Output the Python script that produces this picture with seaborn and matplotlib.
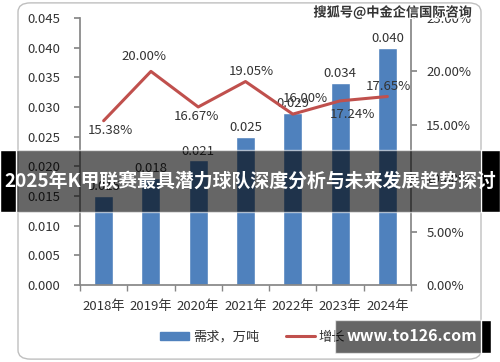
import numpy as np
import pandas as pd
import matplotlib
matplotlib.use("Agg")
import matplotlib.pyplot as plt
import seaborn as sns
from matplotlib.patches import FancyBboxPatch, Rectangle, Patch
from matplotlib.lines import Line2D
from matplotlib.ticker import FuncFormatter, MultipleLocator
import matplotlib.patheffects as pe

# ---- data ----
years = ["2018年", "2019年", "2020年", "2021年", "2022年", "2023年", "2024年"]
demand = [0.015, 0.018, 0.021, 0.025, 0.029, 0.034, 0.040]
growth = [15.38, 20.00, 16.67, 19.05, 16.00, 17.24, 17.65]
growth_labels = ["15.38%", "20.00%", "16.67%", "19.05%", "16.00%", "17.24%", "17.65%"]
banner_title = "2025年K甲联赛最具潜力球队深度分析与未来发展趋势探讨"

df = pd.DataFrame({"year": years, "demand": demand, "growth": growth})

sns.set_theme(style="white")
plt.rcParams["font.family"] = ["Noto Sans CJK SC", "DejaVu Sans"]

BLUE = "#4F81BD"
RED = "#C0504D"
GRAY = "#868686"
TXT = "#333333"

fig = plt.figure(figsize=(5, 3.62), dpi=100)
ax = fig.add_axes([0.16, 0.2127, 0.662, 0.7376])

# rounded outer frame
frame = FancyBboxPatch((0.036, 0.008), 0.926, 0.984, boxstyle="round,pad=0,rounding_size=0.025",
                       transform=fig.transFigure, facecolor="white", edgecolor="#BFBFBF",
                       linewidth=1.0, zorder=-10)
fig.patches.append(frame)
ax.set_facecolor("none")

sns.barplot(data=df, x="year", y="demand", color=BLUE, width=0.4, saturation=1, ax=ax)
ax.bar_label(ax.containers[0], fmt="%.3f", padding=2, fontsize=9.5, color=TXT)

ax.set_ylim(0, 0.045)
ax.set_xlim(-0.5, len(years) - 0.5)
ax.yaxis.set_major_locator(MultipleLocator(0.005))
ax.yaxis.set_major_formatter(FuncFormatter(lambda v, p: f"{v:.3f}"))
ax.set_xlabel("")
ax.set_ylabel("")

ax2 = ax.twinx()
sns.lineplot(data=df, x="year", y="growth", color=RED, linewidth=2.2, ax=ax2, legend=False)
ax2.set_ylim(0, 25)
ax2.set_xlim(-0.5, len(years) - 0.5)
ax2.yaxis.set_major_locator(MultipleLocator(5))
ax2.yaxis.set_major_formatter(FuncFormatter(lambda v, p: f"{v:.2f}%"))
ax2.set_ylabel("")

offsets = [(5, -7), (-5, 11), (-1, -7), (4, 7), (9, 11), (9, -10), (1, 7)]
for i, (g, lab) in enumerate(zip(growth, growth_labels)):
    ax2.annotate(lab, (i, g), xytext=offsets[i], textcoords="offset points",
                 ha="center", va="center", fontsize=9.5, color=TXT)

# axes styling
for a in (ax, ax2):
    for s in a.spines.values():
        s.set_visible(False)
ax.spines["left"].set_visible(True)
ax.spines["left"].set_color(GRAY)
ax.spines["bottom"].set_visible(True)
ax.spines["bottom"].set_color(GRAY)
ax2.spines["right"].set_visible(True)
ax2.spines["right"].set_color(GRAY)

ax.tick_params(axis="y", left=True, length=4, color=GRAY, labelsize=9.5, labelcolor=TXT, pad=10)
ax2.tick_params(axis="y", right=True, length=4, color=GRAY, labelsize=9.5, labelcolor=TXT, pad=7)
ax.set_xticks(np.arange(-0.5, len(years), 1.0), minor=True)
ax.tick_params(axis="x", which="minor", bottom=True, length=4, color=GRAY)
ax.tick_params(axis="x", which="major", bottom=False, labelsize=9.5, labelcolor=TXT, pad=5)

# legend
handles = [Patch(facecolor=BLUE, edgecolor=BLUE), Line2D([], [], color=RED, linewidth=2.2)]
fig.legend(handles, ["需求，万吨", "增长"], loc="center", bbox_to_anchor=(0.505, 0.069), ncol=2,
           frameon=False, fontsize=9.5, handlelength=2.2, handleheight=0.6, columnspacing=2.0,
           handletextpad=0.3, labelcolor=TXT)

# banner overlay
fig.patches.append(Rectangle((0, 0.414), 1, 0.172, transform=fig.transFigure,
                             facecolor="black", alpha=0.6, zorder=20))
fig.patches.append(Rectangle((0, 0.414), 0.032, 0.172, transform=fig.transFigure,
                             facecolor="black", zorder=21))
fig.patches.append(Rectangle((0.962, 0.414), 0.038, 0.172, transform=fig.transFigure,
                             facecolor="black", zorder=21))
fig.text(0.5, 0.5, banner_title, ha="center", va="center", color="white", fontsize=13.6,
         fontweight="bold", zorder=22)

# watermarks
fig.text(0.786, 0.965, "搜狐号@中金企信国际咨询", ha="center", va="center", fontsize=9.5,
         fontweight="bold", color="#333333", zorder=22,
         path_effects=[pe.withStroke(linewidth=2, foreground="white")])
fig.patches.append(Rectangle((0.67, 0.025), 0.292, 0.091, transform=fig.transFigure,
                             facecolor="black", alpha=0.6, zorder=20))
fig.patches.append(Rectangle((0.962, 0.025), 0.02, 0.091, transform=fig.transFigure,
                             facecolor="black", zorder=21))
fig.text(0.824, 0.0705, "www.to126.com", ha="center", va="center", color="white",
         fontsize=11.5, fontweight="bold", zorder=22)

fig.savefig("out.png", dpi=100)
